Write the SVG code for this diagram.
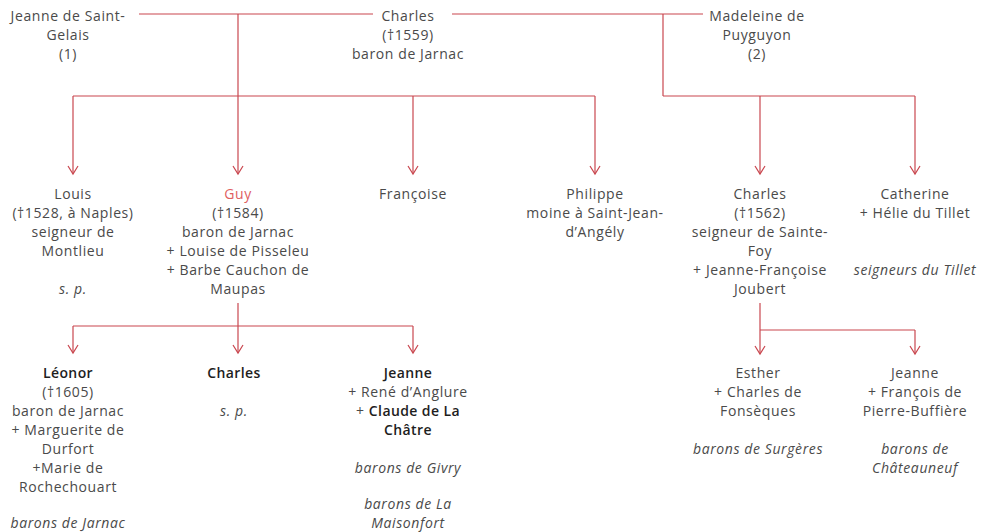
<svg xmlns="http://www.w3.org/2000/svg" width="992" height="532" viewBox="0 0 992 532">
<defs>
<marker id="arr" markerUnits="userSpaceOnUse" markerWidth="12" markerHeight="14" viewBox="-10 -6 12 12" refX="0" refY="0" orient="auto">
<path d="M-8,-5 L0,0 L-8,5" fill="none" stroke="#c9474f" stroke-width="1.2"/>
</marker>
<style>
text{font-family:"Open Sans","Liberation Sans",sans-serif;font-size:14px;font-weight:400;letter-spacing:0.6px;fill:#4a4a4a;text-anchor:middle}
.b{font-weight:600;fill:#1e1e1e;letter-spacing:0.4px}
.i{font-style:italic}
.red{fill:#e0605f}
.c line,.c path{stroke:#c9474f;stroke-width:1.2;fill:none}
.a{marker-end:url(#arr)}
</style>
</defs>
<rect width="992" height="532" fill="#ffffff"/>
<g class="c" id="connectors">
<line x1="139" y1="14" x2="373" y2="14"/>
<line x1="452" y1="14" x2="703" y2="14"/>
<line x1="238" y1="14" x2="238" y2="96"/>
<line x1="663" y1="14" x2="663" y2="96"/>
<line x1="73" y1="96" x2="595" y2="96"/>
<line x1="663" y1="96" x2="915" y2="96"/>
<line class="a" x1="73" y1="96" x2="73" y2="174"/>
<line class="a" x1="238" y1="96" x2="238" y2="174"/>
<line class="a" x1="413" y1="96" x2="413" y2="174"/>
<line class="a" x1="595" y1="96" x2="595" y2="174"/>
<line class="a" x1="760" y1="96" x2="760" y2="174"/>
<line class="a" x1="915" y1="96" x2="915" y2="174"/>
<line x1="238" y1="303" x2="238" y2="326"/>
<line x1="73" y1="326" x2="413" y2="326"/>
<line class="a" x1="73" y1="326" x2="73" y2="353"/>
<line class="a" x1="238" y1="326" x2="238" y2="353"/>
<line class="a" x1="413" y1="326" x2="413" y2="353"/>
<line x1="760" y1="303" x2="760" y2="330"/>
<line x1="760" y1="330" x2="915" y2="330"/>
<line class="a" x1="760" y1="330" x2="760" y2="354"/>
<line class="a" x1="915" y1="330" x2="915" y2="354"/>
</g>
<g id="jeanne-saint-gelais">
<text x="68" y="21">Jeanne de Saint-</text>
<text x="68" y="40">Gelais</text>
<text x="68" y="59">(1)</text>
</g>
<g id="charles-1559">
<text x="408" y="21">Charles</text>
<text x="408" y="40">(†1559)</text>
<text x="408" y="59">baron de Jarnac</text>
</g>
<g id="madeleine">
<text x="757" y="21">Madeleine de</text>
<text x="757" y="40">Puyguyon</text>
<text x="757" y="59">(2)</text>
</g>
<g id="louis">
<text x="73" y="199">Louis</text>
<text x="73" y="218">(†1528, à Naples)</text>
<text x="73" y="237">seigneur de</text>
<text x="73" y="256">Montlieu</text>
<text x="73" y="294" class="i">s. p.</text>
</g>
<g id="guy">
<text x="238" y="199" class="red">Guy</text>
<text x="238" y="218">(†1584)</text>
<text x="238" y="237">baron de Jarnac</text>
<text x="238" y="256">+ Louise de Pisseleu</text>
<text x="238" y="275">+ Barbe Cauchon de</text>
<text x="238" y="294">Maupas</text>
</g>
<g id="francoise">
<text x="413" y="199">Françoise</text>
</g>
<g id="philippe">
<text x="595" y="199">Philippe</text>
<text x="595" y="218">moine à Saint-Jean-</text>
<text x="595" y="237">d’Angély</text>
</g>
<g id="charles-1562">
<text x="760" y="199">Charles</text>
<text x="760" y="218">(†1562)</text>
<text x="760" y="237">seigneur de Sainte-</text>
<text x="760" y="256">Foy</text>
<text x="760" y="275">+ Jeanne-Françoise</text>
<text x="760" y="294">Joubert</text>
</g>
<g id="catherine">
<text x="915" y="199">Catherine</text>
<text x="915" y="218">+ Hélie du Tillet</text>
<text x="915" y="275" class="i">seigneurs du Tillet</text>
</g>
<g id="leonor">
<text x="68" y="378" class="b">Léonor</text>
<text x="68" y="397">(†1605)</text>
<text x="68" y="416">baron de Jarnac</text>
<text x="68" y="435">+ Marguerite de</text>
<text x="68" y="454">Durfort</text>
<text x="68" y="473">+Marie de</text>
<text x="68" y="492">Rochechouart</text>
<text x="68" y="528" class="i">barons de Jarnac</text>
</g>
<g id="charles-sp">
<text x="234" y="378" class="b">Charles</text>
<text x="234" y="416" class="i">s. p.</text>
</g>
<g id="jeanne-chatre">
<text x="408" y="378" class="b">Jeanne</text>
<text x="408" y="397">+ René d’Anglure</text>
<text x="408" y="416">+ <tspan class="b">Claude de La</tspan></text>
<text x="408" y="435" class="b">Châtre</text>
<text x="408" y="473" class="i">barons de Givry</text>
<text x="408" y="509" class="i">barons de La</text>
<text x="408" y="528" class="i">Maisonfort</text>
</g>
<g id="esther">
<text x="758" y="378">Esther</text>
<text x="758" y="397">+ Charles de</text>
<text x="758" y="416">Fonsèques</text>
<text x="758" y="454" class="i">barons de Surgères</text>
</g>
<g id="jeanne-buffiere">
<text x="915" y="378">Jeanne</text>
<text x="915" y="397">+ François de</text>
<text x="915" y="416">Pierre-Buffière</text>
<text x="915" y="454" class="i">barons de</text>
<text x="915" y="473" class="i">Châteauneuf</text>
</g>
</svg>
